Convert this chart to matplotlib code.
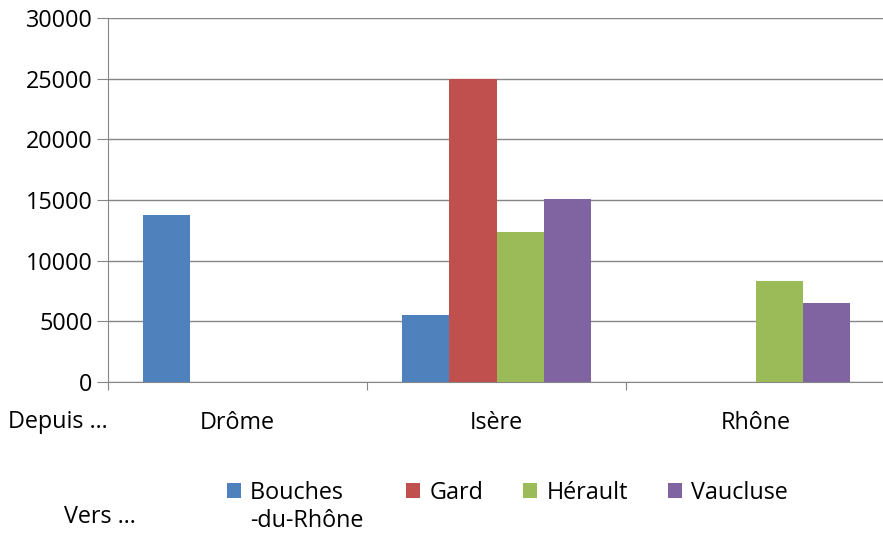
import matplotlib.pyplot as plt
import numpy as np

plt.rcParams['font.family'] = ['Open Sans', 'DejaVu Sans']

origins = ['Drôme', 'Isère', 'Rhône']
destinations = ['Bouches', 'Gard', 'Hérault', 'Vaucluse']
dest_suffix = '-du-Rhône'   # second line of the first legend entry
bouches = [13750, 5500, 0]
gard = [0, 25000, 0]
herault = [0, 12350, 8300]
vaucluse = [0, 15050, 6500]
colors = ['#4F81BD', '#C0504D', '#9BBB59', '#8064A2']

series = [bouches, gard, herault, vaucluse]
fs = 16.8

fig = plt.figure(figsize=(8.83, 5.35), dpi=100)
ax = fig.add_axes([108 / 883, 1 - 382 / 535, 777 / 883, 364 / 535])

x = np.arange(len(origins))
w = 0.182
for i, vals in enumerate(series):
    ax.bar(x + (i - 1.5) * w, vals, width=w, color=colors[i], label=destinations[i], zorder=3)

ax.set_ylim(0, 30000)
ax.set_xlim(-0.5, 2.5)
ax.set_yticks(range(0, 30001, 5000))
ax.grid(axis='y', color='#868686', linewidth=1, zorder=0)
for s in ['top', 'right']:
    ax.spines[s].set_visible(False)
for s in ['left', 'bottom']:
    ax.spines[s].set_color('#868686')
ax.tick_params(axis='y', length=8, color='#868686', labelsize=fs, pad=3)
ax.set_xticks([-0.5, 0.5, 1.5, 2.5])
ax.set_xticklabels([])
ax.tick_params(axis='x', length=6, color='#868686')
for xi, name in zip(x, origins):
    ax.text(xi, -0.113, name, transform=ax.get_xaxis_transform(),
            ha='center', va='center', fontsize=fs)

fig.text(8 / 883, 1 - 422 / 535, 'Depuis …', ha='left', va='center', fontsize=fs)
fig.text(64 / 883, 1 - 517 / 535, 'Vers …', ha='left', va='center', fontsize=fs)

# pad first label so its column is as wide as "-du-Rhône"
labels = [destinations[0] + '\u2002' * 2] + destinations[1:]
handles = ax.get_legend_handles_labels()[0]
leg = fig.legend(handles, labels, loc='upper left', bbox_to_anchor=(227 / 883, 1 - 481 / 535),
                 ncol=4, frameon=False, fontsize=fs, handlelength=0.6, handleheight=0.6,
                 handletextpad=0.4, columnspacing=1.7, borderpad=0, borderaxespad=0)

fig.canvas.draw()
bb = leg.get_texts()[0].get_window_extent().transformed(fig.transFigure.inverted())
fig.text(bb.x0, bb.y0 - 28 / 535, dest_suffix, ha='left', va='bottom', fontsize=fs)

fig.savefig('out.png', dpi=100)
